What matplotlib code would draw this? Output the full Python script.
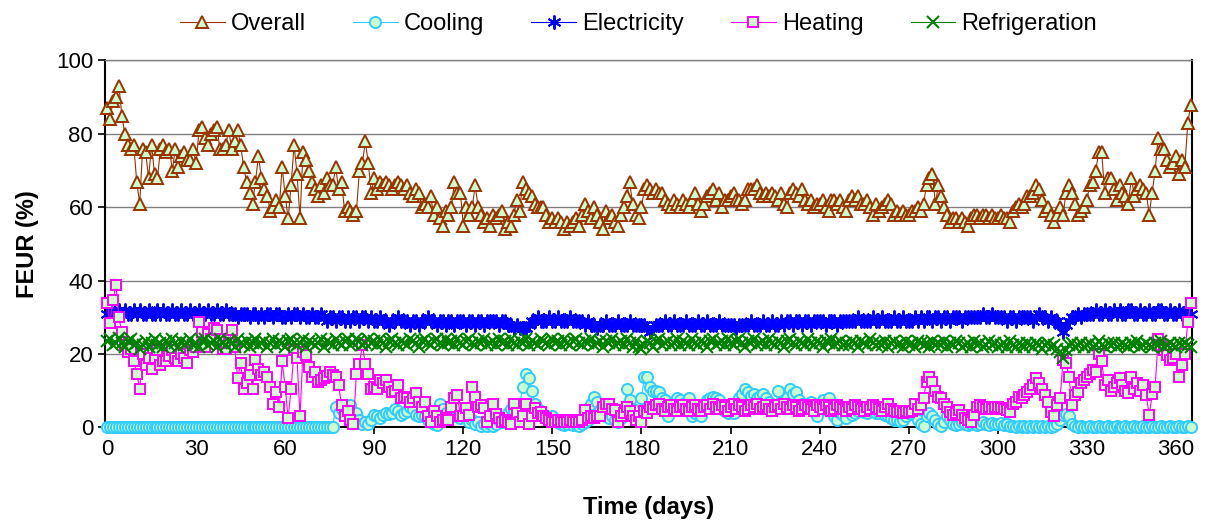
import matplotlib
matplotlib.use("Agg")
import matplotlib.pyplot as plt

plt.rcParams["font.family"] = ["Liberation Sans", "DejaVu Sans"]

# 每日数据 (day 0 - 365)
overall = [
    87, 84, 89, 90, 93, 85, 80, 77, 76, 77,
    67, 61, 76, 75, 68, 77, 69, 68, 76, 77,
    75, 76, 70, 76, 71, 74, 75, 73, 73, 76,
    72, 81, 82, 79, 77, 80, 81, 82, 76, 76,
    77, 81, 76, 78, 81, 77, 71, 67, 64, 61,
    67, 74, 68, 65, 63, 59, 60, 62, 60, 71,
    63, 57, 66, 77, 69, 57, 75, 73, 70, 67,
    65, 63, 66, 64, 68, 66, 66, 71, 65, 67,
    59, 60, 59, 58, 59, 70, 72, 78, 72, 64,
    68, 65, 67, 66, 67, 66, 65, 66, 67, 66,
    65, 66, 64, 63, 65, 64, 60, 61, 60, 63,
    58, 60, 57, 55, 59, 58, 60, 67, 64, 64,
    55, 60, 58, 60, 66, 60, 58, 56, 57, 55,
    58, 57, 58, 59, 54, 56, 55, 58, 62, 59,
    67, 65, 64, 63, 61, 60, 60, 60, 58, 56,
    57, 56, 57, 56, 54, 56, 55, 56, 57, 55,
    58, 61, 59, 57, 60, 58, 56, 54, 59, 57,
    58, 56, 55, 58, 60, 63, 67, 61, 58, 57,
    60, 65, 66, 65, 64, 65, 64, 64, 62, 61,
    60, 62, 61, 60, 62, 61, 60, 62, 64, 61,
    59, 61, 63, 64, 65, 62, 64, 60, 62, 62,
    63, 64, 62, 62, 61, 62, 65, 65, 65, 66,
    64, 63, 64, 63, 64, 63, 62, 64, 61, 60,
    64, 65, 64, 63, 65, 62, 61, 62, 60, 61,
    61, 62, 60, 59, 62, 62, 61, 62, 60, 59,
    62, 63, 62, 63, 61, 61, 62, 60, 58, 61,
    59, 60, 61, 62, 61, 58, 59, 58, 59, 58,
    58, 59, 59, 60, 59, 61, 66, 68, 69, 61,
    66, 63, 60, 58, 56, 57, 57, 56, 57, 56,
    55, 57, 58, 58, 57, 58, 58, 57, 58, 57,
    57, 58, 57, 57, 56, 59, 60, 61, 60, 61,
    63, 63, 64, 66, 65, 62, 59, 60, 58, 56,
    58, 60, 58, 64, 66, 64, 61, 58, 59, 60,
    62, 66, 67, 70, 75, 75, 64, 68, 68, 65,
    62, 66, 64, 63, 61, 68, 63, 65, 66, 65,
    64, 58, 64, 70, 79, 76, 76, 73, 71, 72,
    74, 69, 73, 71, 83, 88]

cooling = [
    0, 0, 0, 0, 0, 0, 0, 0, 0, 0,
    0, 0, 0, 0, 0, 0, 0, 0, 0, 0,
    0, 0, 0, 0, 0, 0, 0, 0, 0, 0,
    0, 0, 0, 0, 0, 0, 0, 0, 0, 0,
    0, 0, 0, 0, 0, 0, 0, 0, 0, 0,
    0, 0, 0, 0, 0, 0, 0, 0, 0, 0,
    0, 0, 0, 0, 0, 0, 0, 0, 0, 0,
    0, 0, 0, 0, 0, 0, 0, 5.5, 4, 5,
    4.5, 3, 6, 2.5, 4, 2, 1, 1.5, 1, 2,
    3.5, 3, 2.5, 3.5, 4, 3.6, 4, 5, 4.5, 3.5,
    4, 4.5, 5.5, 5, 3.5, 3, 3.5, 3, 2, 1.5,
    1, 0.6, 6.5, 5, 4, 2.5, 3, 3.5, 3, 2.5,
    3.5, 2.5, 1.5, 2, 1, 1.5, 0.5, 1, 0.5, 1,
    0.5, 1, 2, 1.5, 2.5, 4, 5, 4.5, 5.5, 6.5,
    11, 14.7, 13.4, 10, 6.5, 5, 4.5, 3.5, 3, 2.5,
    3, 2, 1.5, 1, 0.6, 1, 1.5, 0.8, 1, 0.5,
    1, 1.5, 2, 6.5, 8.4, 7, 4.7, 3.5, 3, 2.5,
    3, 2, 1.5, 2.5, 4.7, 10.6, 7.5, 5, 2.5, 3,
    8, 13.8, 13.8, 11, 10, 10, 9.7, 8, 7.5, 3,
    6.5, 7, 8, 7.5, 6.5, 7, 8, 3, 4, 5,
    3, 5, 7.6, 8, 8.4, 8, 7.6, 5, 4.5, 4,
    5, 4, 6, 8, 9, 10.6, 9.7, 8.5, 9, 8,
    8.5, 9, 8, 7, 6, 5, 10, 7, 6, 8,
    10.6, 9, 9.7, 7.5, 6.5, 6, 5.6, 7, 6, 3,
    6, 7.5, 5, 8, 4.5, 3, 2, 4, 3.5, 2.5,
    4.5, 3.5, 4, 4.5, 5, 4.3, 4, 4.7, 4.5, 4,
    4, 4.5, 3.5, 3, 2.5, 2, 2, 1.8, 2, 3,
    4, 4.5, 3.5, 2, 1, 0.5, 3, 4, 3, 2,
    1, 0.5, 1.5, 3, 2, 1, 0.6, 1, 1.5, 1,
    0.6, 1, 1.2, 0.8, 1, 1.5, 1, 0.7, 1.2, 1,
    1, 1.2, 0.8, 1, 0.5, 0.3, 0.2, 0.3, 0.2, 0.3,
    0.2, 0.3, 0.2, 0.3, 0.2, 0.3, 0.2, 0.3, 0.2, 0.5,
    1, 2, 3.5, 3.6, 3, 1, 0.5, 0.2, 0.3, 0.2,
    0.2, 0.3, 0.2, 0.2, 0.3, 0.2, 0.2, 0.3, 0.2, 0.2,
    0.3, 0.2, 0.2, 0.3, 0.2, 0.2, 0.3, 0.2, 0.2, 0.3,
    0.2, 0.2, 0.3, 0.2, 0.2, 0.3, 0.2, 0.2, 0.3, 0.2,
    0.2, 0.3, 0.2, 0.2, 0.3, 0.2]

electricity = [
    31, 32, 31, 31, 32, 31, 32, 31, 31, 32,
    31, 32, 31, 31, 32, 31, 31, 32, 31, 32,
    31, 31, 32, 31, 31, 32, 31, 31, 32, 31,
    31, 32, 31, 31, 32, 31, 31, 32, 31, 31,
    32, 31, 31, 31, 30, 31, 31, 31, 30, 31,
    31, 30, 31, 30, 31, 31, 30, 31, 31, 30,
    30, 31, 30, 31, 31, 30, 31, 30, 30, 31,
    30, 30, 31, 30, 29, 30, 30, 29, 30, 30,
    29, 30, 29, 30, 30, 29, 30, 30, 29, 30,
    29, 29, 30, 29, 29, 28, 29, 29, 30, 29,
    29, 29, 28, 29, 29, 28, 29, 29, 30, 29,
    29, 28, 29, 29, 28, 29, 29, 28, 29, 29,
    29, 28, 29, 29, 28, 29, 29, 28, 29, 29,
    29, 29, 28, 29, 29, 28, 28, 27, 28, 27,
    27, 27, 28, 29, 29, 30, 29, 29, 29, 30,
    29, 29, 30, 29, 29, 29, 30, 29, 29, 29,
    29, 28, 29, 28, 28, 27, 28, 28, 29, 28,
    28, 28, 29, 28, 28, 28, 29, 28, 28, 28,
    28, 28, 27, 26, 27, 28, 28, 28, 29, 28,
    28, 29, 28, 28, 28, 29, 28, 28, 28, 29,
    28, 28, 29, 28, 28, 28, 29, 28, 28, 28,
    28, 28, 27, 28, 28, 28, 28, 29, 28, 28,
    28, 29, 28, 28, 29, 28, 28, 29, 28, 29,
    29, 28, 29, 29, 28, 29, 29, 28, 29, 29,
    29, 29, 28, 29, 29, 29, 28, 29, 29, 29,
    29, 29, 29, 30, 29, 29, 29, 29, 30, 29,
    29, 30, 29, 29, 29, 30, 29, 29, 30, 29,
    29, 29, 30, 29, 30, 29, 30, 30, 29, 30,
    30, 29, 30, 30, 29, 30, 30, 30, 29, 30,
    30, 30, 30, 30, 30, 31, 30, 30, 31, 30,
    30, 30, 30, 29, 30, 30, 29, 30, 30, 30,
    30, 30, 29, 30, 31, 30, 30, 29, 30, 29,
    29, 28, 26, 28, 29, 30, 30, 31, 30, 31,
    31, 31, 31, 32, 31, 31, 32, 31, 31, 32,
    31, 32, 31, 31, 32, 32, 31, 31, 32, 31,
    31, 32, 31, 31, 32, 32, 31, 31, 32, 31,
    31, 32, 31, 31, 32, 31]

heating = [
    34, 28.5, 34.7, 38.8, 30, 26, 22.5, 20.6, 21.5, 18,
    14.7, 10.6, 20, 17, 19, 16, 19, 21, 17, 18,
    18, 19.5, 21, 19, 18, 20, 19, 17.5, 21, 20.6,
    22, 28.8, 26, 22, 25.6, 24, 27, 26.5, 24, 21.5,
    21.5, 23, 26.5, 22, 13.4, 17.5, 10.6, 12, 14.3, 10.6,
    18.4, 16, 14.3, 15, 13.8, 11, 6.5, 9.7, 5.6, 18,
    11, 2.5, 10.6, 21, 18.8, 3, 20.6, 19.7, 16.5, 13.8,
    15, 12.4, 13, 13.4, 14, 15, 14.3, 13.8, 11.5, 6,
    3, 4.4, 2, 1, 14.7, 17.4, 22.5, 17.4, 14.7, 10.6,
    11, 10.6, 13, 12, 13, 11, 9.7, 10, 11.5, 8,
    8.4, 8, 7, 8, 9.3, 7, 5.6, 7, 3, 1.5,
    4.4, 3, 1.5, 2, 2.5, 2, 5.6, 8, 8.8, 3,
    3, 5.2, 3.5, 11, 8.4, 5.6, 6, 5.2, 1.5, 3,
    6.5, 3.8, 2.5, 1.5, 2, 1.5, 1, 6.5, 4, 1.5,
    3, 6.5, 1, 3, 5.2, 4, 4.3, 3, 2.5, 2,
    1.5, 1.5, 2, 1.5, 1.5, 1.5, 2, 1.5, 1.5, 1.5,
    2, 4.7, 2.5, 3, 2.5, 3, 3, 5.6, 6.5, 6.5,
    5, 4.7, 1.5, 3, 4, 5.6, 4.5, 3, 2, 3,
    1.5, 4.5, 4, 5.6, 5, 6, 6.5, 5, 4.5, 5.5,
    6, 5, 4.5, 5.5, 6, 5, 4.5, 5.5, 6, 5,
    4.5, 5.5, 6, 5, 6.5, 5.5, 5, 6, 5.5, 4.5,
    5.5, 6.5, 5, 6, 5.5, 4.5, 5, 6, 5.5, 6.5,
    5, 5.5, 6, 5, 4.5, 5.5, 6, 5, 6.5, 5.5,
    5, 6, 5.5, 4.5, 5, 6, 5.5, 5, 4.5, 6,
    5.5, 5, 6, 5.5, 4.5, 5, 6, 5.5, 5, 4.5,
    5.5, 5, 6, 5.5, 5, 4.5, 5.5, 5, 6, 5.5,
    5, 4.5, 5.5, 6.5, 5, 4.5, 4.3, 4.5, 4, 4.5,
    4.3, 4.5, 6.5, 5, 6, 8, 12.4, 13.8, 12.4, 10,
    8.4, 8, 6.5, 5.6, 4.3, 3.4, 4, 4.7, 3.5, 2.5,
    2, 1.5, 3.5, 5.6, 6, 5.5, 5, 5.6, 5, 5.6,
    5.6, 5.2, 5, 4.8, 4.3, 6.5, 7, 8.4, 8, 8.8,
    9.7, 10.5, 11.5, 13.4, 12, 10.6, 8.8, 7, 4.3, 3,
    6, 8, 18.4, 17.5, 13.8, 6, 8.8, 9.7, 12, 13,
    13.8, 14.5, 15.6, 15, 20, 18, 11.5, 13, 10, 11,
    12, 13.4, 11.5, 10, 9.3, 13.8, 10.6, 12, 10, 11.5,
    8.8, 3.4, 9, 11, 24, 22.5, 21, 19.7, 18.4, 19,
    20, 13.8, 17, 20, 28.8, 33.8]

refrigeration = [
    23.5, 24, 22.5, 23, 24.5, 23, 22, 23.5, 24, 22.5,
    23, 21.5, 22.5, 23.5, 22, 23, 24, 22.5, 23, 22,
    23.5, 22.5, 24, 23, 22, 23.5, 22.5, 23, 24, 22.5,
    23, 22, 23.5, 24, 22.5, 23, 23.5, 22, 24, 23,
    22.5, 23.5, 23, 22, 24, 23, 22.5, 23.5, 22, 23,
    24, 22.5, 23, 23.5, 22, 23, 24, 22.5, 23.5, 23,
    22, 23.5, 24, 23, 22.5, 23, 24, 22, 23.5, 23,
    22.5, 23, 24, 22, 23.5, 23, 22.5, 24, 23, 22.5,
    23.5, 24, 22.5, 23, 24, 23.5, 22.5, 23, 24, 23,
    23.5, 22.5, 24, 23, 22, 23.5, 24, 23, 22.5, 23.5,
    23, 22.5, 24, 23.5, 23, 22, 23.5, 24, 23, 22.5,
    23.5, 24, 23, 22.5, 24, 23, 23.5, 22.5, 24, 23,
    22.5, 23.5, 24, 23, 22.5, 23.5, 23, 24, 22.5, 23,
    23.5, 22.5, 24, 23, 23.5, 22.5, 24, 23, 22.5, 23.5,
    23, 24, 22.5, 23.5, 23, 22.5, 24, 23.5, 23, 22.5,
    24, 23, 23.5, 22.5, 24, 23, 22.5, 23.5, 24, 23,
    22.5, 23.5, 23, 24, 22.5, 23, 23.5, 22, 23.5, 23,
    24, 22.5, 23, 23.5, 22.5, 24, 23, 22, 23.5, 22,
    21.5, 22.5, 23.5, 23, 22, 23.5, 24, 22.5, 23, 23.5,
    22.5, 23, 24, 22.5, 23.5, 23, 22.5, 24, 23, 22.5,
    23.5, 23, 22, 23.5, 24, 22.5, 23, 23.5, 22.5, 24,
    23, 22.5, 23.5, 24, 23, 22, 23.5, 23, 24, 22.5,
    23, 23.5, 22.5, 24, 23, 22.5, 23.5, 23, 22, 23.5,
    24, 23, 22.5, 23.5, 23, 22.5, 24, 23, 22.5, 23.5,
    23, 22, 23.5, 23, 24, 22.5, 23, 23.5, 22.5, 23,
    22.5, 23.5, 23, 22, 23.5, 23, 22.5, 24, 23, 22.5,
    23, 22.5, 23.5, 22, 23, 23.5, 22.5, 23, 22, 23.5,
    22.5, 23, 22, 23.5, 23, 22.5, 23, 22, 23.5, 22.5,
    23, 22.5, 23.5, 22, 23, 22.5, 23.5, 23, 22, 22.5,
    23, 22, 23.5, 22.5, 23, 22, 22.5, 23.5, 22.5, 23,
    22, 22.5, 23, 22, 23.5, 22.5, 22, 23, 22.5, 22,
    23, 22.5, 22, 23, 22.5, 21.5, 22.5, 23, 22, 22.5,
    21.5, 20.5, 19, 21, 22.5, 23, 22, 22.5, 23, 22,
    22.5, 23, 22, 22.5, 23.5, 22.5, 22, 23, 22.5, 23,
    22, 22.5, 23, 22.5, 22, 23, 22.5, 23.5, 22, 22.5,
    23, 22.5, 22, 23, 22.5, 23.5, 22, 22.5, 23, 22.5,
    22, 23, 22.5, 23, 22.5, 22]

days = list(range(len(overall)))
x_ticks = list(range(0, 361, 30))
y_ticks = [0, 20, 40, 60, 80, 100]

fig = plt.figure(figsize=(12.09, 5.29), dpi=100)
ax = fig.add_axes([0.0868, 0.1919, 0.8991, 0.6938])

# 五条曲线
ax.plot(days, overall, color="#993300", linewidth=0.8, marker="^", markersize=8.5,
        markerfacecolor="#CCFFCC", markeredgecolor="#993300", markeredgewidth=1.4,
        label="Overall", clip_on=False, zorder=3)
ax.plot(days, cooling, color="#33CCFF", linewidth=0.8, marker="o", markersize=8,
        markerfacecolor="#CCFFCC", markeredgecolor="#33CCFF", markeredgewidth=1.4,
        label="Cooling", clip_on=False, zorder=4)
ax.plot(days, electricity, color="#0000FF", linewidth=0.8, marker=(6, 2, 0), markersize=10,
        markeredgecolor="#0000FF", markeredgewidth=1.4,
        label="Electricity", clip_on=False, zorder=5)
ax.plot(days, heating, color="#FF00FF", linewidth=0.8, marker="s", markersize=7,
        markerfacecolor="#CCFFCC", markeredgecolor="#FF00FF", markeredgewidth=1.4,
        label="Heating", clip_on=False, zorder=6)
ax.plot(days, refrigeration, color="#008000", linewidth=0.8, marker="x", markersize=8.5,
        markeredgecolor="#008000", markeredgewidth=1.5,
        label="Refrigeration", clip_on=False, zorder=7)

# 坐标轴
ax.set_xlim(-0.7, 365.4)
ax.set_ylim(0, 100)
ax.set_xticks(x_ticks)
ax.set_yticks(y_ticks)
ax.tick_params(axis="both", labelsize=16, direction="out", length=5, width=1.2)
ax.yaxis.grid(True, color="#808080", linewidth=1)
ax.set_axisbelow(True)
for side in ["left", "bottom", "right"]:
    ax.spines[side].set_linewidth(1.5)
    ax.spines[side].set_color("black")
ax.spines["top"].set_linewidth(1)
ax.spines["top"].set_color("#808080")

ax.set_xlabel("Time (days)", fontsize=17, fontweight="bold", labelpad=26)
ax.set_ylabel("FEUR (%)", fontsize=17, fontweight="bold", labelpad=12)

# 图例
fig.legend(loc="upper center", bbox_to_anchor=(0.528, 1.015), ncol=5, frameon=False,
           fontsize=17, handlelength=1.9, columnspacing=2.0, handletextpad=0.25)

plt.savefig("out.png", dpi=100)
